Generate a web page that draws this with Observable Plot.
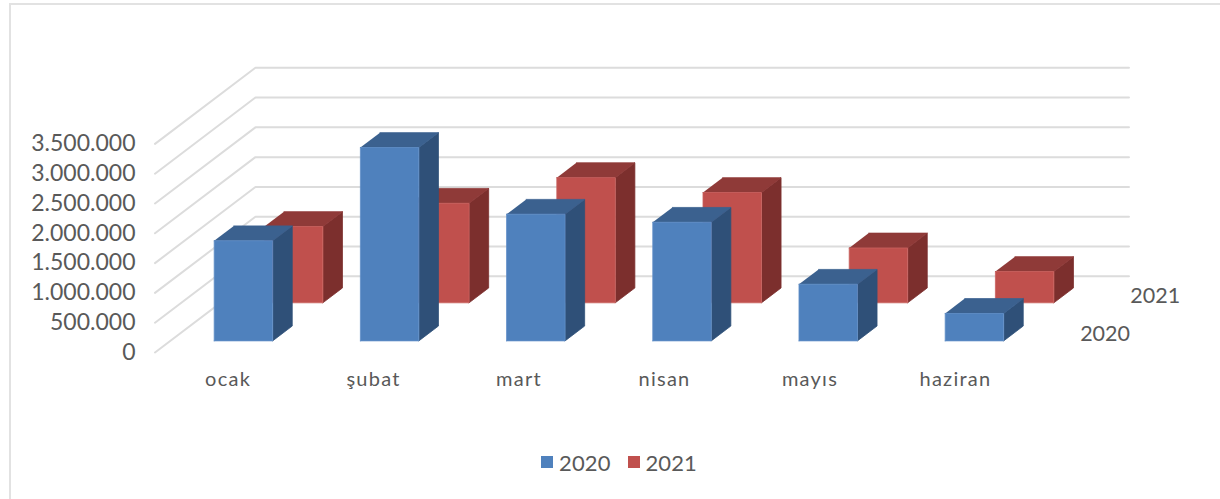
<!DOCTYPE html>
<html lang="tr">
<head>
<meta charset="utf-8">
<script src="https://cdn.jsdelivr.net/npm/d3@7"></script>
<script src="https://cdn.jsdelivr.net/npm/@observablehq/plot@0.6"></script>
<style>
html,body{margin:0;padding:0;background:#fff;width:1220px;height:499px;overflow:hidden}
#chart{position:relative;width:1220px;height:499px}
#frame{position:absolute;left:9px;top:3px;width:1209px;height:494px;border:2px solid #e2e2e2;border-bottom-color:#f0f0f0;border-right-color:#ececec;pointer-events:none}
#plot{position:absolute;left:0;top:0}
#plot svg{display:block;overflow:visible}
#legend{position:absolute;left:0;top:439px;width:1220px;height:46px;display:flex;justify-content:center;align-items:center;font:22px Lato,sans-serif;letter-spacing:0.1px;color:#595959;padding-left:18px;box-sizing:border-box}
#legend span.k{display:inline-block;width:12px;height:12px;margin:0 6px 0 17px}
#legend span.k:first-child{margin-left:0}
</style>
</head>
<body>
<div id="chart"><div id="frame"></div><div id="plot"></div><div id="legend"></div></div>
<script>
const months = ["ocak","şubat","mart","nisan","mayıs","haziran"];
const seriesNames = ["2020","2021"];
const values2020 = [1680000,3245000,2125000,1990000,950000,460000];
const values2021 = [1280000,1670000,2100000,1850000,920000,525000];
const valueTicks = [0,500000,1000000,1500000,2000000,2500000,3000000,3500000];
const seriesDepth = [0.25,0.75];
const frontColors = ["#4f81bd","#c0504d"];
const edgeColors = ["#5f8ec8","#c9615e"];
const topColors = ["#3b618f","#8f3a38"];
const sideColors = ["#2f5078","#7c2f2d"];

const DX = 0.687;        // oblique shift of the full floor depth, in months
const DY = 1278000;      // oblique shift of the full floor depth, in value units
const barWidth = 0.4;    // in months
const barDepth = 0.195;  // share of the floor depth
const slotPad = 0.3;
const floorMonths = 5.975;
const labelStep = 0.995;

const px = (i, z) => i + z * DX;
const py = (v, z) => v + z * DY;
const fmt = d3.formatLocale({decimal:",",thousands:".",grouping:[3],currency:["",""]}).format(",");

const faces = [];
[values2021, values2020].forEach((vals, k) => {
  const s = k === 0 ? 1 : 0;
  vals.forEach((v, i) => {
    const x0 = i + slotPad, x1 = x0 + barWidth;
    const z0 = seriesDepth[s] - barDepth/2, z1 = z0 + barDepth;
    const id = `${s}-${i}`;
    const add = (face, color, edge, corners) => corners.forEach(([a,b,c]) =>
      faces.push({id:`${id}-${face}`, color, edge, x:px(a,c), y:py(b,c)}));
    add("side", sideColors[s], sideColors[s], [[x1,0,z0],[x1,0,z1],[x1,v,z1],[x1,v,z0]]);
    add("top",  topColors[s],  topColors[s],  [[x0,v,z0],[x1,v,z0],[x1,v,z1],[x0,v,z1]]);
    add("front",frontColors[s],edgeColors[s], [[x0,0,z0],[x1,0,z0],[x1,v,z0],[x0,v,z0],[x0,0,z0]]);
  });
});

const grid = valueTicks.flatMap(v => [
  {v, x:px(0,0), y:py(v,0)},
  {v, x:px(0,1), y:py(v,1)},
  {v, x:px(floorMonths,1), y:py(v,1)}
]);

const monthRows = months.map((m,i) => ({m, x:i*labelStep+0.5}));
const seriesRows = seriesNames.map((s,k) => ({s, x:px(floorMonths,seriesDepth[k]), y:py(0,seriesDepth[k])}));

const font = "Lato, sans-serif";
const chart = Plot.plot({
  width:1220, height:440,
  marginLeft:154.5, marginRight:188.3, marginTop:143.4, marginBottom:88,
  x:{domain:[0,6], axis:null},
  y:{domain:[0,3500000], axis:null},
  style:{background:"transparent", fontFamily:font},
  marks:[
    Plot.line(grid,{x:"x",y:"y",z:"v",stroke:"#dcdcdc",strokeWidth:2}),
    Plot.line(faces,{x:"x",y:"y",z:"id",fill:"color",stroke:"edge",strokeWidth:0.8,curve:"linear"}),
    Plot.axisY({ticks:valueTicks,tickFormat:fmt,tickSize:0,tickPadding:19.5,fontSize:23,fill:"#595959",label:null,fontFamily:font}),
    Plot.text(monthRows,{x:"x",y:()=>0,text:"m",dy:27,fontSize:20,fill:"#595959",fontFamily:font}),
    Plot.text(seriesRows,{x:"x",y:"y",text:"s",dx:26.5,dy:1,textAnchor:"start",fontSize:21.5,fill:"#595959",fontFamily:font})
  ]
});
// the original's geometric face sets its month names wider than Lato does
const monthGroup = [...chart.querySelectorAll('g[aria-label="text"]')][0];
if (monthGroup) monthGroup.style.letterSpacing = "1.25px";
document.getElementById("plot").append(chart);

const lg = document.getElementById("legend");
seriesNames.forEach((s,k)=>{
  const sw=document.createElement("span");sw.className="k";sw.style.background=frontColors[k];
  const t=document.createElement("span");t.textContent=s;
  lg.append(sw,t);
});
</script>
</body>
</html>
